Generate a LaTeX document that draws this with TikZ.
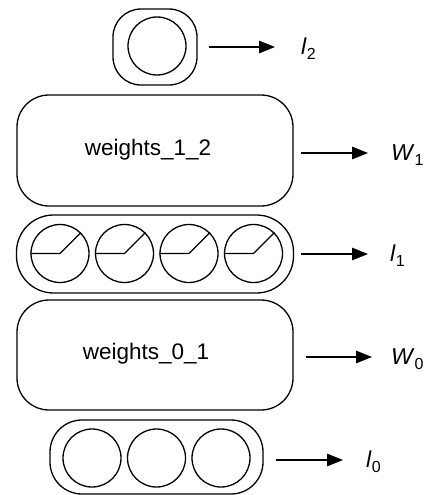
\documentclass[tikz,border=0pt]{standalone}
\usepackage{fontspec}
\setmainfont{Liberation Sans}
\usetikzlibrary{arrows.meta}
\newcommand{\mysub}[1]{\raisebox{-5pt}{\fontsize{16}{16}\selectfont #1}}
\begin{document}
\begin{tikzpicture}[x=1pt,y=-1pt,
  lw/.style={line width=1.3pt},
  cont/.style={lw,draw,rounded corners=#1,inner sep=0pt},
  neuron/.style={lw,draw,circle,minimum size=58pt,inner sep=0pt},
  arr/.style={lw,-{Triangle[length=16pt,width=12.5pt]}},
  lab/.style={anchor=west,inner sep=0pt,font=\fontsize{23}{25}\selectfont},
  wtext/.style={font=\fontsize{22.5}{24}\selectfont}]
\useasboundingbox (0,0) rectangle (434,495);
% layer 2
\node[cont=28pt,minimum width=84pt,minimum height=76pt] (L2) at (155,47) {};
\node[neuron] (n20) at (157,46) {};
\node[lab] (l2) at (301,49) {\textit{l}\mysub{2}};
\draw[arr,shorten <=11pt,shorten >=26pt] (L2.east |- 0,47) -- (l2.west |- 0,47);
% weights 1 2
\node[cont=32pt,minimum width=276pt,minimum height=111pt] (W12) at (155,150.5) {};
\node[wtext] (t12) at (148,150) {weights\_1\_2};
\node[lab] (W1) at (391,155) {\textit{W}\mysub{1}};
\draw[arr,shorten <=7pt,shorten >=23pt] (W12.east |- 0,153) -- (W1.west |- 0,153);
% layer 1
\node[cont=37pt,minimum width=277pt,minimum height=78pt] (L1) at (155,254) {};
\foreach \i/\x in {1/60,2/124.5,3/189,4/253.5}{
  \node[neuron] (n1\i) at (\x,253.5) {};
  \draw[lw] (n1\i.west) -- (n1\i.center) -- (n1\i.45);
}
\node[lab] (l1) at (390,256) {\textit{l}\mysub{1}};
\draw[arr,shorten <=7pt,shorten >=22pt] (L1.east |- 0,254) -- (l1.west |- 0,254);
% weights 0 1
\node[cont=32pt,minimum width=276pt,minimum height=110pt] (W01) at (155,355) {};
\node[wtext] (t01) at (146,354) {weights\_0\_1};
\node[lab] (W0) at (391,359) {\textit{W}\mysub{0}};
\draw[arr,shorten <=12pt,shorten >=19pt] (W01.east |- 0,357) -- (W0.west |- 0,357);
% layer 0
\node[cont=32pt,minimum width=213pt,minimum height=74pt] (L0) at (156.5,457) {};
\foreach \i/\x in {1/92,2/156.5,3/221}{
  \node[neuron] (n0\i) at (\x,458) {};
}
\node[lab] (l0) at (366,462) {\textit{l}\mysub{0}};
\draw[arr,shorten <=12pt,shorten >=23pt] (L0.east |- 0,460) -- (l0.west |- 0,460);
\end{tikzpicture}
\end{document}
